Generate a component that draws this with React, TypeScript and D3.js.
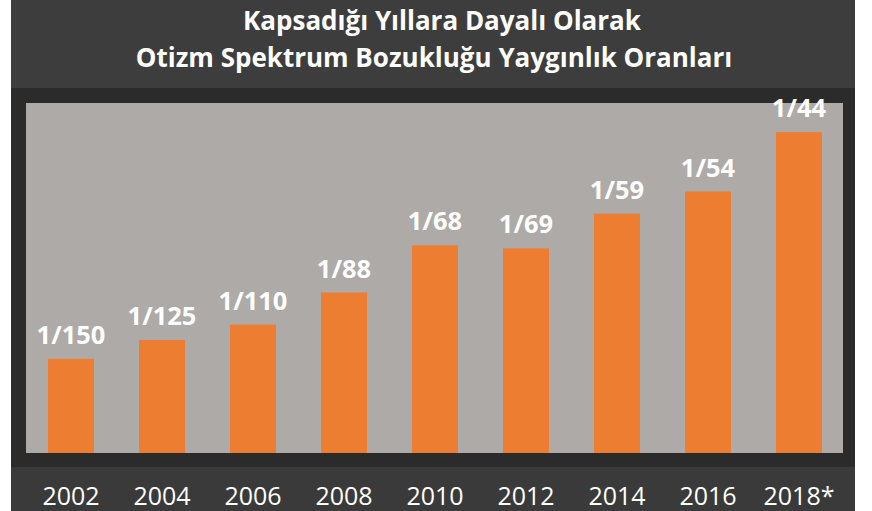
import * as d3 from 'd3'
import { useEffect } from 'react'

const years = ['2002', '2004', '2006', '2008', '2010', '2012', '2014', '2016', '2018*']
// prevalence written as 1 in N children
const denominators = [150, 125, 110, 88, 68, 69, 59, 54, 44]
const titleLines = ['Kapsadığı Yıllara Dayalı Olarak', 'Otizm Spektrum Bozukluğu Yaygınlık Oranları']

const W = 872
const H = 511
const font = '"Open Sans", sans-serif'

const App = () => {
  useEffect(() => {
    document.body.style.margin = '0'
  }, [])

  const plot = { left: 26, right: 843, top: 103, bottom: 453 }

  const x = d3.scaleBand<string>()
    .domain(years)
    .range([plot.left - 0.5, plot.right + 1.5])
    .paddingInner(0.495)
    .paddingOuter(0.2475)

  const y = d3.scaleLinear()
    .domain([0, 0.025])
    .range([plot.bottom, plot.top - 3])

  const rows = years.map((yr, i) => ({ year: yr, denom: denominators[i], value: 1 / denominators[i] }))
  const titleX = [442, 434]

  return (
    <svg width={W} height={H} style={{ display: 'block', background: '#fff' }}>
      {/* dark backdrop */}
      <rect x={11} y={0} width={844} height={H} fill="#2b2b2b" />
      <rect x={11} y={0} width={844} height={88} fill="#3d3d3d" />
      <rect x={11} y={467} width={844} height={H - 467} fill="#3a3a3a" />

      {/* title */}
      {titleLines.map((t, i) => (
        <text
          key={t}
          x={titleX[i]}
          y={30 + i * 37}
          textAnchor="middle"
          fill="#fff"
          fontFamily={font}
          fontWeight={700}
          fontSize={26}
        >
          {t}
        </text>
      ))}

      {/* plot area */}
      <rect
        x={plot.left}
        y={plot.top}
        width={plot.right - plot.left}
        height={plot.bottom - plot.top}
        fill="#adaaa8"
      />

      {/* bars */}
      {rows.map(d => (
        <rect
          key={d.year}
          x={x(d.year)}
          y={y(d.value)}
          width={x.bandwidth()}
          height={plot.bottom - y(d.value)}
          fill="#ed7d31"
        />
      ))}

      {/* value labels */}
      {rows.map(d => (
        <text
          key={'l' + d.year}
          x={(x(d.year) ?? 0) + x.bandwidth() / 2}
          y={y(d.value) - 15}
          textAnchor="middle"
          fill="#fff"
          fontFamily={font}
          fontWeight={700}
          fontSize={25.5}
        >
          {`1/${d.denom}`}
        </text>
      ))}

      {/* year labels */}
      {rows.map(d => (
        <text
          key={'y' + d.year}
          x={(x(d.year) ?? 0) + x.bandwidth() / 2}
          y={505}
          textAnchor="middle"
          fill="#fff"
          fontFamily={font}
          fontSize={25}
        >
          {d.year}
        </text>
      ))}
    </svg>
  )
}

export default App
